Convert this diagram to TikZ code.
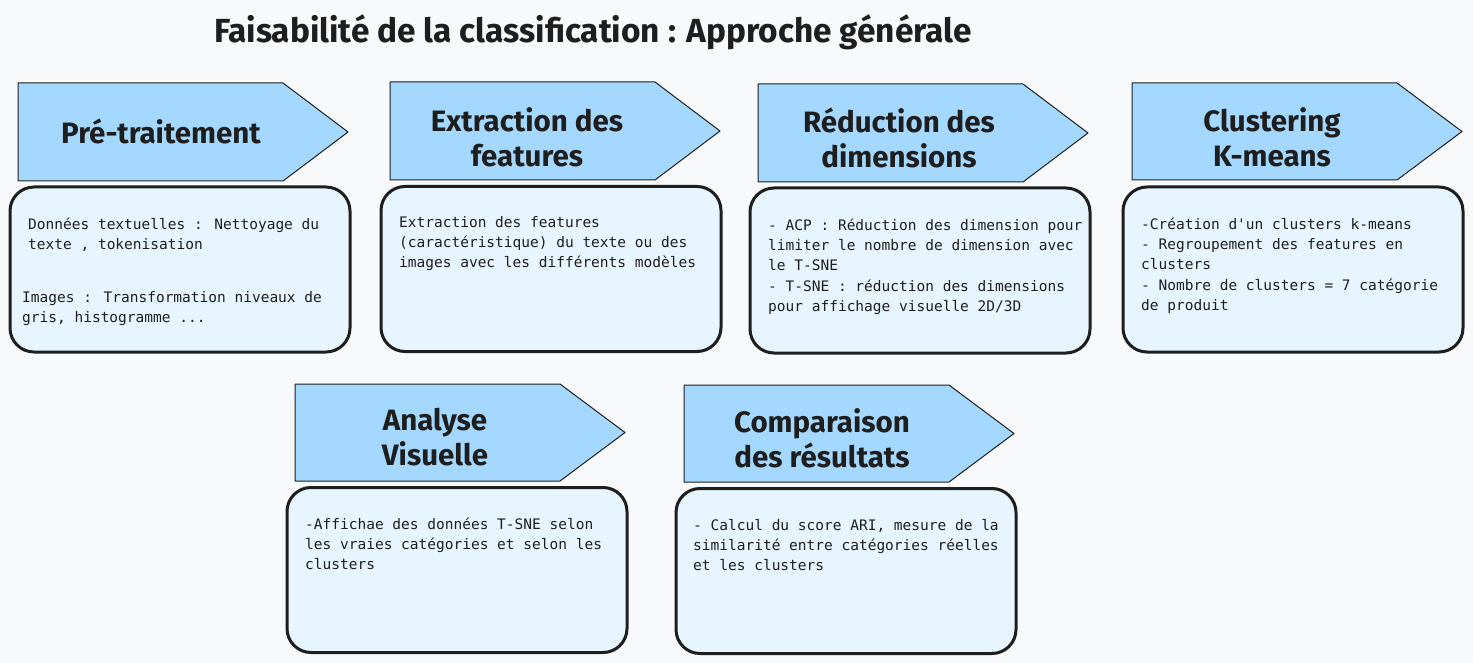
\documentclass[tikz,border=0pt]{standalone}
\usepackage{fontspec}
\newfontfamily\headfont{Fira Sans}
\newfontfamily\bodyfont{DejaVu Sans Mono}
\definecolor{bg}{HTML}{F8F9FA}
\definecolor{arrowfill}{HTML}{A5D8FF}
\definecolor{boxfill}{HTML}{E7F5FF}
\definecolor{ink}{HTML}{1E1E1E}
\tikzset{
  steparrow/.style={fill=arrowfill, draw=ink, line width=1pt, line join=round},
  infobox/.style={draw=ink, fill=boxfill, line width=3pt, rounded corners=24pt,
    minimum width=340pt, minimum height=165pt, inner sep=0pt},
  heading/.style={font=\headfont\bfseries\fontsize{29.5}{35}\selectfont, text=ink, align=center, inner sep=0pt},
  body/.style={font=\bodyfont\fontsize{14.5}{20.3}\selectfont, text=ink, align=left,
    anchor=north west, inner sep=0pt},
}
\newcommand\firstline{\rule{0pt}{14pt}}
\begin{document}
\begin{tikzpicture}[x=1pt,y=-1pt]
\fill[bg] (0,0) rectangle (1473,663);
\useasboundingbox (0,0) rectangle (1473,663);

\node[font=\headfont\bfseries\fontsize{33.4}{40}\selectfont, text=ink, inner sep=0pt] (title) at (593,32)
  {Faisabilité de la classification : Approche générale};

% step arrows
\draw[steparrow] (18,83) -- (283,83) -- (348,132) -- (283,181) -- (18,181) -- cycle;
\draw[steparrow] (390,82) -- (655,82) -- (720,131) -- (655,180) -- (390,180) -- cycle;
\draw[steparrow] (758,84) -- (1023,84) -- (1088,133) -- (1023,182) -- (758,182) -- cycle;
\draw[steparrow] (1132,83) -- (1397,83) -- (1462,131.5) -- (1397,180) -- (1132,180) -- cycle;
\draw[steparrow] (295,384) -- (560,384) -- (625,432.5) -- (560,481) -- (295,481) -- cycle;
\draw[steparrow] (684,385) -- (949,385) -- (1014,433.5) -- (949,482) -- (684,482) -- cycle;

\node[heading] (h1) at (161,131) {Pré-traitement};
\node[heading] (h2) at (527,137) {Extraction des\\features};
\node[heading] (h3) at (899,138) {Réduction des\\dimensions};
\node[heading] (h4) at (1272,137) {Clustering\\K-means};
\node[heading] (h5) at (435,437) {Analyse\\Visuelle};
\node[heading] (h6) at (822,438) {Comparaison\\des résultats};

% info boxes
\node[infobox] (b1) at (180,269.5) {};
\node[infobox] (b2) at (551,269) {};
\node[infobox] (b3) at (920,270.5) {};
\node[infobox] (b4) at (1293,269.5) {};
\node[infobox] (b5) at (457,570) {};
\node[infobox] (b6) at (846,571) {};

\node[body] (t1a) at (28,215) {\firstline Données textuelles : Nettoyage du\\texte , tokenisation};
\node[body] (t1b) at (22,288) {\firstline Images : Transformation niveaux de\\gris, histogramme ...};
\node[body] (t2) at (399,213) {\firstline Extraction des features\\(caractéristique) du texte ou des\\images avec les différents modèles};
\node[body] (t3) at (768,216) {\firstline - ACP : Réduction des dimension pour\\limiter le nombre de dimension avec\\le T-SNE\\- T-SNE : réduction des dimensions\\pour affichage visuelle 2D/3D};
\node[body] (t4) at (1141,215) {\firstline -Création d'un clusters k-means\\- Regroupement des features en\\clusters\\- Nombre de clusters = 7 catégorie\\de produit};
\node[body] (t5) at (305,515) {\firstline -Affichae des données T-SNE selon\\les vraies catégories et selon les\\clusters};
\node[body] (t6) at (693,516) {\firstline - Calcul du score ARI, mesure de la\\similarité entre catégories réelles\\et les clusters};
\end{tikzpicture}
\end{document}
